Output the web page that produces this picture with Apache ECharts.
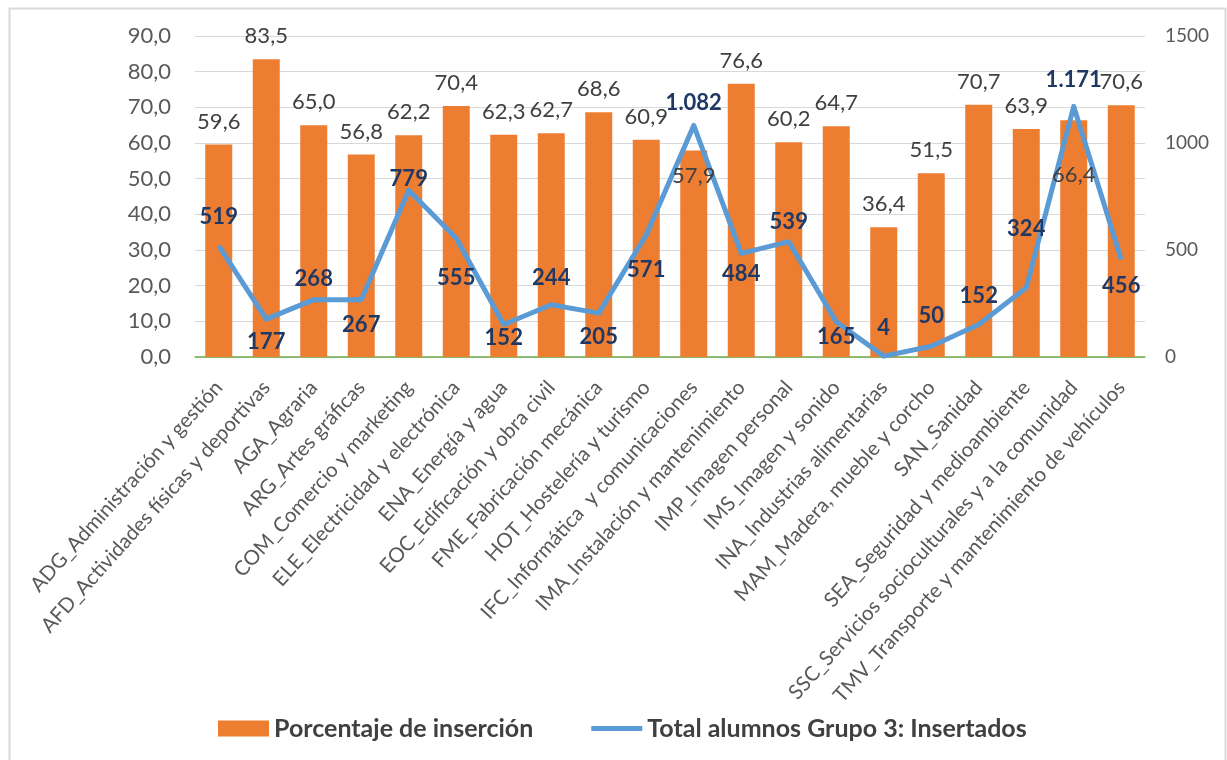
<!DOCTYPE html>
<html><head><meta charset="utf-8">
<script src="https://cdn.jsdelivr.net/npm/echarts@6/dist/echarts.min.js"></script>
<style>html,body{margin:0;padding:0;background:#fff}#c{width:1227px;height:760px}</style>
</head><body><div id="c"></div>
<script>
const categories = [
  "ADG_Administración y gestión",
  "AFD_Actividades físicas y deportivas",
  "AGA_Agraria",
  "ARG_Artes gráficas",
  "COM_Comercio y marketing",
  "ELE_Electricidad y electrónica",
  "ENA_Energía y agua",
  "EOC_Edificación y obra civil",
  "FME_Fabricación mecánica",
  "HOT_Hostelería y turismo",
  "IFC_Informática  y comunicaciones",
  "IMA_Instalación y mantenimiento",
  "IMP_Imagen personal",
  "IMS_Imagen y sonido",
  "INA_Industrias alimentarias",
  "MAM_Madera, mueble y corcho",
  "SAN_Sanidad",
  "SEA_Seguridad y medioambiente",
  "SSC_Servicios socioculturales y a la comunidad",
  "TMV_Transporte y mantenimiento de vehículos"
];
const porcentaje = [59.6, 83.5, 65.0, 56.8, 62.2, 70.4, 62.3, 62.7, 68.6, 60.9, 57.9, 76.6, 60.2, 64.7, 36.4, 51.5, 70.7, 63.9, 66.4, 70.6];
const insertados = [519, 177, 268, 267, 779, 555, 152, 244, 205, 571, 1082, 484, 539, 165, 4, 50, 152, 324, 1171, 456];
const lineLabelPos = ["top","bottom","top","bottom","top","bottom","bottom","top","bottom","bottom","top","bottom","top","bottom","top","top","top","top","top","bottom"];
const lineLabelDist = [18, 12, 10, 14, 0, 29, 2, 16, 13, 24, 11, 9, 9, 4, 17, 19, 18, 48, 15, 15];
const insideBarLabels = [10, 18];
const leftTicks = {min: 0, max: 90, interval: 10};
const rightTicks = {min: 0, max: 1500, interval: 500};

const FONT = "Lato";
const fmtComma = v => v.toFixed(1).replace('.', ',');
const fmtThousand = v => String(v).replace(/\B(?=(\d{3})+(?!\d))/g, '.');

const barData = porcentaje.map((v, i) => {
  const item = {value: v};
  if (insideBarLabels.includes(i)) item.label = {show: false};
  return item;
});
const overlayData = porcentaje.map((v, i) => {
  const item = {value: v, label: {show: false}};
  if (i === 10) item.label = {show: true, position: 'insideTop', distance: 14};
  if (i === 18) item.label = {show: true, position: 'insideTop', distance: 14, offset: [0, 30]};
  return item;
});
const lineData = insertados.map((v, i) => ({
  value: v,
  label: {position: lineLabelPos[i], distance: lineLabelDist[i]}
}));

const chart = echarts.init(document.getElementById('c'), null, {renderer: 'canvas'});
chart.setOption({
  animation: false,
  backgroundColor: '#fff',
  textStyle: {fontFamily: FONT},
  graphic: [{
    type: 'rect', left: 7, top: 6, z: -10,
    shape: {width: 1216, height: 770},
    style: {fill: 'none', stroke: '#D9D9D9', lineWidth: 2}
  }],
  grid: {left: 195, right: 82, top: 36, bottom: 403, containLabel: false},
  legend: {
    left: 213, top: 711,
    itemGap: 58,
    itemWidth: 51, itemHeight: 16,
    textStyle: {fontFamily: FONT, fontSize: 25, fontWeight: 'bold', color: '#404040'},
    data: [
      {name: 'Porcentaje de inserción', icon: 'rect'},
      {name: 'Total alumnos Grupo 3: Insertados', icon: 'path://M0,0 L100,0 L100,10 L0,10 Z'}
    ]
  },
  xAxis: {
    type: 'category',
    data: categories,
    axisTick: {show: false},
    axisLine: {lineStyle: {color: '#70AD47', width: 1.5}},
    axisLabel: {interval: 0, rotate: 48, color: '#595959', fontFamily: FONT, fontSize: 20.5, margin: 27}
  },
  yAxis: [{
    type: 'value', min: leftTicks.min, max: leftTicks.max, interval: leftTicks.interval,
    axisLine: {show: false}, axisTick: {show: false},
    splitLine: {lineStyle: {color: '#D9D9D9', width: 1}},
    axisLabel: {color: '#595959', fontFamily: FONT, fontSize: 22, margin: 24, formatter: v => fmtComma(v)}
  }, {
    type: 'value', min: rightTicks.min, max: rightTicks.max, interval: rightTicks.interval,
    axisLine: {show: false}, axisTick: {show: false},
    splitLine: {show: false},
    axisLabel: {color: '#595959', fontFamily: FONT, fontSize: 19, margin: 20, formatter: v => String(v)}
  }],
  series: [{
    name: 'Porcentaje de inserción',
    type: 'bar',
    yAxisIndex: 0,
    data: barData,
    barWidth: 27,
    itemStyle: {color: '#ED7D31'},
    label: {
      show: true, position: 'top', distance: 12,
      color: '#404040', fontFamily: FONT, fontSize: 22,
      formatter: p => fmtComma(p.value)
    },
    z: 2
  }, {
    name: 'Total alumnos Grupo 3: Insertados',
    type: 'line',
    yAxisIndex: 1,
    data: lineData,
    symbol: 'circle',
    symbolSize: 0.1,
    showAllSymbol: true,
    lineStyle: {color: '#5B9BD5', width: 5, join: 'round'},
    itemStyle: {color: '#5B9BD5'},
    label: {
      show: true,
      color: '#1F3864', fontFamily: FONT, fontSize: 22, fontWeight: 'bold',
      formatter: p => fmtThousand(p.value)
    },
    z: 3
  }, {
    name: 'labels',
    type: 'bar',
    yAxisIndex: 0,
    data: overlayData,
    barWidth: 27,
    barGap: '-100%',
    silent: true,
    itemStyle: {color: 'rgba(0,0,0,0)'},
    label: {
      color: '#404040', fontFamily: FONT, fontSize: 22,
      formatter: p => fmtComma(p.value)
    },
    z: 5
  }]
});
</script>
</body></html>
